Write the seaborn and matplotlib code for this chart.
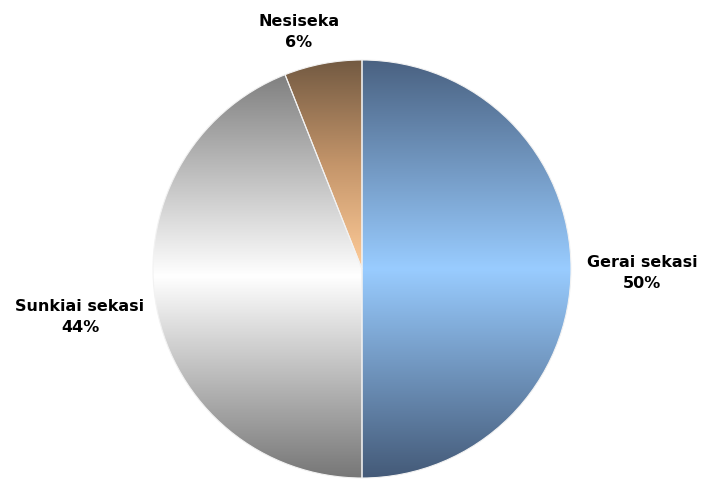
import numpy as np
import seaborn as sns
import matplotlib.pyplot as plt
from matplotlib.colors import LinearSegmentedColormap

categories = ["Gerai sekasi", "Sunkiai sekasi", "Nesiseka"]
shares = [50, 44, 6]

# vertical gradient per slice: bottom -> middle -> top
GRADIENTS = {
    "Gerai sekasi":   ["#445a78", "#99ccff", "#4a6282"],
    "Sunkiai sekasi": ["#777777", "#ffffff", "#808080"],
    "Nesiseka":       ["#ffcc99", "#c4956a", "#735a42"],
}
# label centres in pixel space of the 703x479 canvas
LABEL_POS = {
    "Gerai sekasi":   (642, 273),
    "Sunkiai sekasi": (80, 317),
    "Nesiseka":       (299, 32),
}

sns.set_theme(style="white")
plt.rcParams["font.family"] = ["DejaVu Sans"]

fig = plt.figure(figsize=(7.03, 4.79), dpi=100)
ax = fig.add_axes([0, 0, 1, 1])

wedges, _ = ax.pie(
    shares, startangle=90, counterclock=False,
    center=(362, 210), radius=209, frame=True,
    wedgeprops=dict(linewidth=0.8, edgecolor="#f2f2f2"),
)

grad = np.linspace(0, 1, 256).reshape(-1, 1)
for w, name in zip(wedges, categories):
    bb = w.get_path().get_extents()
    cmap = LinearSegmentedColormap.from_list(name, GRADIENTS[name])
    im = ax.imshow(grad, cmap=cmap, origin="lower", aspect="auto",
                   extent=(bb.x0, bb.x1, bb.y0, bb.y1), zorder=1)
    im.set_clip_path(w)
    w.set_facecolor("none")
    w.set_zorder(2)

for name, pct in zip(categories, shares):
    x, y = LABEL_POS[name]
    ax.text(x, 479 - y, f"{name}\n{pct}%", ha="center", va="center",
            multialignment="center", fontsize=11.5, fontweight="bold",
            linespacing=1.5, color="black")

ax.set_xlim(0, 703)
ax.set_ylim(0, 479)
ax.set_aspect("equal")
ax.axis("off")

plt.savefig("out.png", dpi=100)
